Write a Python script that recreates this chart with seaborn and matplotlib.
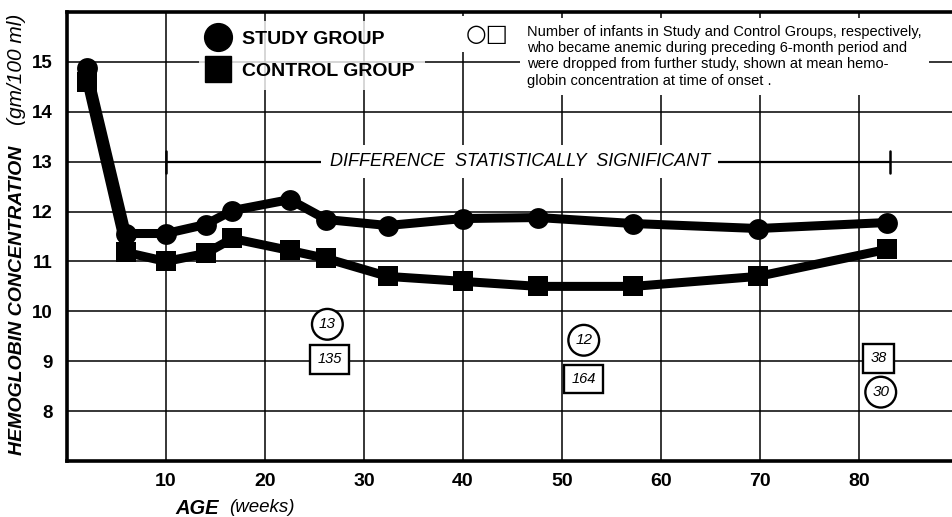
import matplotlib
matplotlib.use("Agg")
import matplotlib.pyplot as plt
from matplotlib.lines import Line2D
import seaborn as sns
import pandas as pd

# ---- data ----
ages = [2, 6, 10, 14, 16.7, 22.5, 26.2, 32.4, 40, 47.6, 57.2, 69.8, 82.8]
hb_study = [14.88, 11.56, 11.56, 11.74, 12.02, 12.24, 11.84, 11.72, 11.86, 11.88, 11.76, 11.66, 11.78]
hb_control = [14.6, 11.18, 11.0, 11.16, 11.46, 11.22, 11.06, 10.7, 10.6, 10.5, 10.5, 10.7, 11.24]
groups = ["STUDY GROUP", "CONTROL GROUP"]

drop_age_study = [26.3, 52.2, 82.2]
drop_hb_study = [9.74, 9.42, 8.38]
drop_n_study = ["13", "12", "30"]
drop_age_control = [26.5, 52.2, 82.0]
drop_hb_control = [9.04, 8.64, 9.06]
drop_n_control = ["135", "164", "38"]

sig_start, sig_end, sig_level = 10, 83.1, 13
x_ticks = [10, 20, 30, 40, 50, 60, 70, 80]
y_ticks = [8, 9, 10, 11, 12, 13, 14, 15]

note_text = ("Number of infants in Study and Control Groups, respectively,\n"
             "who became anemic during preceding 6-month period and\n"
             "were dropped from further study, shown at mean hemo-\n"
             "globin concentration at time of onset .")

sns.set_theme(style="white")
plt.rcParams["font.family"] = ["Liberation Sans", "DejaVu Sans"]
plt.rcParams["text.color"] = "black"
plt.rcParams["axes.labelcolor"] = "black"
plt.rcParams["xtick.color"] = "black"
plt.rcParams["ytick.color"] = "black"

df = pd.DataFrame({
    "age": ages + ages,
    "hb": hb_study + hb_control,
    "group": [groups[0]] * len(ages) + [groups[1]] * len(ages),
})

fig = plt.figure(figsize=(9.53, 5.17), dpi=100)
ax = fig.add_axes([67 / 953, 56 / 517, 886 / 953, 449 / 517])

sns.lineplot(data=df, x="age", y="hb", hue="group", style="group",
             markers={groups[0]: "o", groups[1]: "s"}, dashes=False,
             palette={groups[0]: "black", groups[1]: "black"},
             markersize=15, linewidth=6.5, markeredgewidth=0,
             legend=False, ax=ax, zorder=5)

ax.set_xlim(0, 89.5)
ax.set_ylim(7, 16)
ax.set_xticks(x_ticks)
ax.set_yticks(y_ticks)
ax.grid(True, color="black", linewidth=1.1)
ax.set_axisbelow(True)
for s in ["left", "bottom", "top"]:
    ax.spines[s].set_color("black")
    ax.spines[s].set_linewidth(2.6)
ax.spines["right"].set_visible(False)
ax.tick_params(axis="y", length=0, pad=10, labelsize=13.5)
ax.tick_params(axis="x", length=0, pad=9, labelsize=14)
for lab in ax.get_xticklabels() + ax.get_yticklabels():
    lab.set_fontweight("bold")
ax.set_xlabel("")
ax.set_ylabel("")

# significance bar
ax.plot([sig_start, sig_end], [sig_level, sig_level], color="black", lw=1.6, zorder=3)
for xe in (sig_start, sig_end):
    ax.plot([xe, xe], [sig_level - 0.22, sig_level + 0.22], color="black", lw=1.8, zorder=3)
ax.text((sig_start + sig_end) / 2 - 0.8, sig_level, "DIFFERENCE  STATISTICALLY  SIGNIFICANT",
        ha="center", va="center", fontsize=13, fontstyle="italic", zorder=4,
        bbox=dict(facecolor="white", edgecolor="none", pad=6))

# dropout counts
for x, y, n in zip(drop_age_study, drop_hb_study, drop_n_study):
    ax.text(x, y, n, ha="center", va="center", fontsize=11, fontstyle="italic", zorder=6,
            bbox=dict(boxstyle="circle,pad=0.45", facecolor="white", edgecolor="black", lw=1.7))
for x, y, n in zip(drop_age_control, drop_hb_control, drop_n_control):
    ax.text(x, y, n, ha="center", va="center", fontsize=10.5, fontstyle="italic", zorder=6,
            bbox=dict(boxstyle="square,pad=0.5", facecolor="white", edgecolor="black", lw=1.7))

# legend
handles = [Line2D([], [], marker="o", color="black", linestyle="none", markersize=20),
           Line2D([], [], marker="s", color="black", linestyle="none", markersize=19)]
leg = ax.legend(handles, groups, loc="upper left", bbox_to_anchor=(122 / 886, 1 + 1 / 449),
                frameon=True, fontsize=14, handlelength=1.0, handletextpad=0.75,
                labelspacing=0.75, borderpad=0.5)
leg.get_frame().set_facecolor("white")
leg.get_frame().set_edgecolor("none")
for t in leg.get_texts():
    t.set_fontweight("bold")
    t.set_color("black")
leg.set_zorder(7)

# note
ax.text((466 - 67) / 886, 1 - (22 - 12) / 449, "○□", transform=ax.transAxes,
        ha="left", va="top", fontsize=17, family="DejaVu Sans", zorder=8,
        bbox=dict(facecolor="white", edgecolor="none", pad=4))
ax.text((527 - 67) / 886, 1 - (25 - 12) / 449, note_text, transform=ax.transAxes,
        ha="left", va="top", fontsize=10.5, linespacing=1.2, zorder=8,
        bbox=dict(facecolor="white", edgecolor="none", pad=5))

# axis labels
fig.text(18 / 953, 1 - 455 / 517, "HEMOGLOBIN CONCENTRATION", rotation=90,
         ha="center", va="bottom", fontsize=14, fontweight="bold", fontstyle="italic")
fig.text(17 / 953, 1 - 14 / 517, "(gm/100 ml)", rotation=90,
         ha="center", va="top", fontsize=15, fontstyle="italic")
fig.text(175 / 953, 1 - 508 / 517, "AGE", ha="left", va="center",
         fontsize=14.5, fontweight="bold", fontstyle="italic")
fig.text(229 / 953, 1 - 508 / 517, "(weeks)", ha="left", va="center",
         fontsize=13.5, fontstyle="italic")

fig.savefig("out.png", dpi=100, facecolor="white")
